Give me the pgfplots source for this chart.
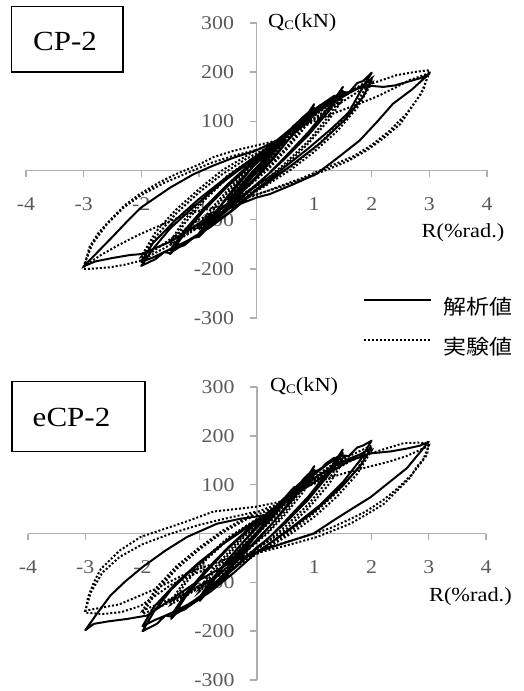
\documentclass[border=0pt]{standalone}
\usepackage{fontspec}
\setmainfont{Liberation Serif}
\newfontfamily\jp{Noto Sans CJK JP}
\usepackage{graphicx}
\usepackage{pgfplots}
\pgfplotsset{compat=1.18}
\definecolor{axgray}{RGB}{175,175,175}
\definecolor{tkgray}{RGB}{90,90,90}
\newcommand{\sx}[1]{\scalebox{1.12}[1]{#1}}
\pgfplotsset{
  hyst/.style={
    scale only axis,
    xmin=-4,xmax=4,ymin=-300,ymax=300, enlargelimits=false,
    axis lines=middle, axis line style={-, draw=axgray, line width=1.4pt},
    xtick={-4,-3,-2,-1,0,1,2,3,4}, ytick={-300,-200,-100,100,200,300},
    tick style={draw=axgray, line width=1.4pt},
    major tick length=7pt, tick align=outside,
    /pgf/number format/assume math mode=true,
    xticklabel={\sx{\pgfmathprintnumber{\tick}}},
    yticklabel={\sx{\pgfmathprintnumber{\tick}}},
    ticklabel style={font=\fontsize{19.5}{20}\selectfont, text=tkgray},
    xticklabel style={yshift=-17pt},
    yticklabel style={xshift=-12pt},
    clip=false,
  },
  anl/.style={black, line width=2pt, line join=round},
  exp/.style={black, line width=2pt, dash pattern=on 2pt off 2pt},
}
\begin{document}
\begin{tikzpicture}
\useasboundingbox (0,0) rectangle (523pt,691pt);
% ---------------- top: CP-2 ----------------
\begin{axis}[hyst, width=461pt, height=295pt, at={(26pt,373pt)}, anchor=south west,
  legend style={at={(rel axis cs:0.731,-0.03)}, anchor=west, draw=none, fill=none,
    font=\jp\fontsize{20.5}{22}\selectfont, row sep=21pt, inner sep=0pt,
    nodes={inner sep=0pt}, /tikz/every odd column/.style={column sep=11pt}},
  legend cell align=left,
  legend image code/.code={\draw[#1] (0pt,7pt) -- (67pt,7pt);},
]
\addplot[anl] coordinates {
(0,0)(0.12,20)(0.25,40)(0.15,22)(0,2)(-0.12,-18)(-0.25,-38)(-0.15,-22)(0,-3)
(0.25,38)(0.5,70)(0.35,48)(0.1,12)(0,-2)(-0.25,-36)(-0.5,-66)(-0.35,-45)(-0.1,-10)(0,5)
(0.25,38)(0.5,68)(0.35,45)(0.1,8)(-0.25,-35)(-0.5,-64)(-0.35,-42)(-0.1,-6)(0,6)
(0.3,45)(0.55,78)(0.65,92)(0.7,90)(0.8,108)(0.9,118)(0.95,122)(1.0,135)(0.8,100)(0.55,62)(0.3,25)(0,-15)
(-0.3,-50)(-0.55,-80)(-0.7,-100)(-0.75,-98)(-0.85,-115)(-1.0,-133)(-0.8,-100)(-0.55,-60)(-0.3,-22)(0,15)
(0.3,48)(0.6,82)(0.8,103)(1.0,128)(0.8,95)(0.5,55)(0.2,15)(0,-12)(-0.3,-48)(-0.6,-85)(-0.8,-106)(-1.0,-128)(-0.8,-96)(-0.5,-55)(-0.2,-12)(0,18)
(0.35,55)(0.7,95)(1.0,125)(1.1,128)(1.2,140)(1.35,152)(1.4,150)(1.5,170)(1.25,128)(0.9,78)(0.5,28)(0.2,-8)(0,-28)
(-0.35,-62)(-0.7,-100)(-1.0,-135)(-1.1,-137)(-1.25,-152)(-1.4,-158)(-1.5,-170)(-1.25,-128)(-0.9,-80)(-0.5,-32)(-0.2,0)(0,22)
(0.4,58)(0.8,100)(1.1,128)(1.3,145)(1.5,162)(1.25,120)(0.9,72)(0.5,25)(0,-30)(-0.4,-70)(-0.8,-110)(-1.1,-138)(-1.3,-152)(-1.5,-162)(-1.25,-122)(-0.9,-75)(-0.5,-28)(0,25)
(0.4,62)(0.8,108)(1.2,140)(1.5,160)(1.6,158)(1.75,178)(1.85,182)(2.0,199)(1.8,160)(1.6,118)(1.3,85)(0.9,45)(0.5,8)(0.2,-20)(0,-38)
(-0.4,-78)(-0.8,-115)(-1.2,-145)(-1.5,-168)(-1.6,-166)(-1.75,-180)(-2.0,-194)(-1.8,-160)(-1.5,-118)(-1.1,-75)(-0.6,-25)(-0.2,10)(0,25)
(0.4,60)(0.8,100)(1.2,130)(1.5,150)(1.8,170)(2.0,185)(1.85,150)(1.55,105)(1.1,55)(0.6,10)(0.2,-25)(0,-40)
(-0.4,-80)(-0.8,-115)(-1.2,-143)(-1.5,-160)(-1.8,-177)(-2.0,-186)(-1.8,-148)(-1.4,-100)(-1.0,-58)(-0.5,-12)(-0.1,22)(0,30)
(0.35,61)(0.7,95)(1.0,118)(1.5,155)(1.8,168)(2.0,172)(2.2,170)(2.4,173)(2.55,178)(2.7,183)(2.85,188)(3.0,197)
(2.7,165)(2.37,136)(2.1,100)(1.79,61)(1.4,25)(1.04,-7)(0.6,-30)(0.23,-48)(0,-55)
(-0.5,-78)(-1.0,-108)(-1.5,-145)(-2.0,-170)(-2.2,-172)(-2.5,-178)(-2.8,-185)(-3.0,-195)
(-2.75,-165)(-2.5,-135)(-2.2,-98)(-2.0,-75)(-1.5,-35)(-1.1,-8)(-0.75,10)(-0.4,26)(0,41)(0.35,61)(0.5,65)
};
\addlegendentry{\sx{解析値}}
\addplot[exp] coordinates {
(0,0)(0.25,35)(0.5,62)(0.3,35)(0,0)(-0.25,-33)(-0.5,-60)(-0.3,-32)(0,2)
(0.25,36)(0.5,60)(0.3,32)(0,-2)(-0.25,-34)(-0.5,-58)(-0.3,-30)(0,4)
(0.3,42)(0.6,80)(0.8,102)(1.0,122)(0.8,90)(0.5,45)(0.2,5)(0,-15)(-0.3,-45)(-0.6,-78)(-0.8,-98)(-1.0,-120)(-0.8,-88)(-0.5,-45)(-0.2,-5)(0,15)
(0.3,40)(0.6,75)(0.8,96)(1.0,115)(0.8,82)(0.5,40)(0.2,2)(0,-18)(-0.3,-48)(-0.6,-76)(-0.8,-95)(-1.0,-113)(-0.8,-80)(-0.5,-40)(-0.2,0)(0,18)
(0.4,50)(0.8,95)(1.2,130)(1.5,155)(1.25,110)(0.9,60)(0.5,15)(0.2,-15)(0,-30)(-0.4,-60)(-0.8,-95)(-1.2,-128)(-1.5,-152)(-1.25,-108)(-0.9,-60)(-0.5,-15)(-0.2,12)(0,28)
(0.4,52)(0.8,90)(1.2,122)(1.5,146)(1.25,102)(0.9,55)(0.5,10)(0,-32)(-0.4,-62)(-0.8,-92)(-1.2,-122)(-1.5,-145)(-1.25,-100)(-0.9,-55)(-0.5,-10)(0,30)
(0.4,58)(0.8,95)(1.2,128)(1.6,158)(2.0,188)(1.75,140)(1.4,90)(1.0,45)(0.6,8)(0.2,-22)(0,-38)(-0.4,-70)(-0.8,-100)(-1.2,-130)(-1.6,-158)(-2.0,-183)(-1.75,-135)(-1.4,-88)(-1.0,-45)(-0.6,-8)(-0.2,22)(0,35)
(0.4,58)(0.8,90)(1.2,118)(1.6,148)(2.0,178)(1.75,128)(1.4,80)(1.0,38)(0.6,2)(0.2,-28)(0,-42)(-0.4,-72)(-0.8,-98)(-1.2,-125)(-1.6,-150)(-2.0,-175)(-1.75,-125)(-1.4,-80)(-1.0,-38)(-0.6,0)(-0.2,28)(0,42)
(0.35,58)(0.7,90)(1.0,118)(1.5,155)(1.8,170)(2.08,180)(2.43,194)(2.78,201)(3.0,204)
(2.9,165)(2.7,130)(2.5,95)(2.2,65)(1.9,40)(1.6,20)(1.3,5)(0.75,-20)(0.3,-38)(0,-48)
(-0.5,-70)(-1.0,-100)(-1.5,-140)(-2.03,-184)(-2.3,-192)(-2.55,-197)(-2.9,-200)(-3.0,-200)
(-2.9,-156)(-2.75,-128)(-2.55,-102)(-2.3,-72)(-2.03,-48)(-1.7,-25)(-1.39,-7)(-1.0,12)(-0.75,27)(-0.4,40)(0,51)(0.35,61)
(0.7,82)(1.0,100)(1.33,116)(1.7,132)(2.08,150)(2.4,168)(2.66,184)(3.0,198)
(2.85,155)(2.6,115)(2.3,80)(2.0,52)(1.7,30)(1.3,10)(0.8,-15)(0.4,-32)(0,-50)
(-0.6,-72)(-1.2,-88)(-1.6,-108)(-2.03,-130)(-2.4,-152)(-2.7,-172)(-3.0,-195)
(-2.85,-150)(-2.6,-110)(-2.3,-75)(-2.0,-50)(-1.6,-25)(-1.2,-5)(-0.8,15)(-0.4,30)(0,42)
};
\addlegendentry{\sx{実験値}}
\node[draw, line width=1.8pt, minimum width=111.6pt, minimum height=65.6pt, inner sep=0pt] at (rel axis cs:0.0897,0.945) {};
\node[font=\fontsize{27.7}{30}\selectfont, inner sep=0pt] at (rel axis cs:0.0846,0.939) {\sx{CP-2}};
\node[anchor=west, font=\fontsize{20}{22}\selectfont, inner sep=0pt] at (rel axis cs:0.525,1.0) {\sx{Q{\fontsize{13}{13}\selectfont\raisebox{-2pt}{C}}(kN)}};
\node[font=\fontsize{20}{22}\selectfont, inner sep=0pt] at (rel axis cs:0.948,0.29) {\sx{R(\%rad.)}};
\end{axis}
% ---------------- bottom: eCP-2 ----------------
\begin{axis}[hyst, width=458pt, height=293pt, at={(28pt,11pt)}, anchor=south west]
\addplot[anl] coordinates {
(0,0)(0.25,42)(0.5,72)(0.3,40)(0,0)(-0.25,-40)(-0.5,-68)(-0.3,-38)(0,-2)
(0.25,40)(0.5,70)(0.3,38)(0,-2)(-0.25,-38)(-0.5,-66)(-0.3,-36)(0,2)
(0.3,48)(0.55,82)(0.65,95)(0.7,93)(0.8,110)(0.9,122)(0.95,125)(1.0,138)(0.8,102)(0.55,62)(0.3,25)(0,-12)
(-0.3,-50)(-0.55,-82)(-0.7,-102)(-0.75,-100)(-0.85,-118)(-1.0,-138)(-0.8,-102)(-0.55,-62)(-0.3,-25)(0,12)
(0.3,50)(0.6,85)(0.8,106)(1.0,130)(0.8,95)(0.5,52)(0.2,12)(0,-14)(-0.3,-50)(-0.6,-86)(-0.8,-108)(-1.0,-130)(-0.8,-96)(-0.5,-52)(-0.2,-12)(0,16)
(0.35,58)(0.7,98)(1.0,128)(1.1,130)(1.2,143)(1.35,155)(1.4,153)(1.5,172)(1.25,128)(0.9,76)(0.5,26)(0.2,-10)(0,-28)
(-0.35,-65)(-0.7,-105)(-1.0,-135)(-1.1,-137)(-1.25,-155)(-1.4,-162)(-1.5,-175)(-1.25,-130)(-0.9,-80)(-0.5,-30)(-0.2,2)(0,22)
(0.4,60)(0.8,102)(1.1,130)(1.3,148)(1.5,165)(1.25,120)(0.9,70)(0.5,22)(0,-30)(-0.4,-72)(-0.8,-110)(-1.1,-138)(-1.3,-155)(-1.5,-168)(-1.25,-124)(-0.9,-76)(-0.5,-28)(0,25)
(0.4,62)(0.8,108)(1.2,140)(1.5,160)(1.6,158)(1.75,176)(1.85,180)(2.0,190)(1.8,150)(1.5,105)(1.1,58)(0.6,12)(0.2,-22)(0,-38)
(-0.4,-80)(-0.8,-118)(-1.2,-150)(-1.5,-170)(-1.6,-168)(-1.75,-185)(-2.0,-200)(-1.8,-160)(-1.5,-115)(-1.1,-70)(-0.6,-22)(-0.2,10)(0,25)
(0.4,58)(0.8,98)(1.2,128)(1.5,148)(1.8,162)(2.0,175)(1.8,138)(1.5,98)(1.0,45)(0.5,2)(0,-38)
(-0.4,-80)(-0.8,-115)(-1.2,-145)(-1.5,-163)(-1.8,-178)(-2.0,-190)(-1.8,-150)(-1.4,-100)(-1.0,-58)(-0.5,-12)(0,28)
(0.4,55)(0.8,90)(1.2,120)(1.6,148)(1.98,164)(2.33,168)(2.62,174)(2.85,180)(3.0,188)
(2.62,134)(2.3,104)(1.98,74)(1.65,50)(1.34,27)(0.99,0)(0.46,-20)(0,-38)
(-0.5,-62)(-1.0,-95)(-1.5,-135)(-1.92,-168)(-2.27,-175)(-2.6,-180)(-2.85,-185)(-3.0,-198)
(-2.8,-165)(-2.56,-127)(-2.3,-98)(-1.98,-67)(-1.6,-35)(-1.22,-7)(-0.7,20)(-0.3,30)(-0.06,34)(0.3,40)
};
\addplot[exp] coordinates {
(0,0)(0.25,38)(0.5,65)(0.3,35)(0,0)(-0.25,-35)(-0.5,-62)(-0.3,-33)(0,2)
(0.25,36)(0.5,62)(0.3,32)(0,-2)(-0.25,-33)(-0.5,-60)(-0.3,-30)(0,4)
(0.3,45)(0.6,84)(0.8,106)(1.0,125)(0.8,92)(0.5,46)(0.2,5)(0,-15)(-0.3,-46)(-0.6,-78)(-0.8,-98)(-1.0,-118)(-0.8,-86)(-0.5,-44)(-0.2,-4)(0,15)
(0.3,42)(0.6,78)(0.8,98)(1.0,118)(0.8,84)(0.5,40)(0.2,2)(0,-18)(-0.3,-48)(-0.6,-76)(-0.8,-94)(-1.0,-112)(-0.8,-78)(-0.5,-38)(-0.2,0)(0,18)
(0.4,52)(0.8,98)(1.2,132)(1.5,155)(1.25,110)(0.9,60)(0.5,15)(0.2,-15)(0,-30)(-0.4,-60)(-0.8,-95)(-1.2,-125)(-1.5,-145)(-1.25,-102)(-0.9,-55)(-0.5,-12)(-0.2,14)(0,28)
(0.4,52)(0.8,92)(1.2,124)(1.5,146)(1.25,100)(0.9,52)(0.5,8)(0,-32)(-0.4,-62)(-0.8,-92)(-1.2,-120)(-1.5,-138)(-1.25,-95)(-0.9,-50)(-0.5,-8)(0,30)
(0.4,58)(0.8,96)(1.2,130)(1.6,158)(2.0,180)(1.75,132)(1.4,85)(1.0,42)(0.6,6)(0.2,-24)(0,-38)(-0.4,-68)(-0.8,-96)(-1.2,-122)(-1.6,-145)(-2.0,-165)(-1.75,-118)(-1.4,-72)(-1.0,-32)(-0.6,2)(-0.2,28)(0,38)
(0.4,58)(0.8,90)(1.2,120)(1.6,146)(2.0,170)(1.75,122)(1.4,76)(1.0,34)(0.6,0)(0.2,-28)(0,-42)(-0.4,-70)(-0.8,-95)(-1.2,-118)(-1.6,-138)(-2.0,-158)(-1.75,-110)(-1.4,-66)(-1.0,-28)(-0.6,6)(-0.2,32)(0,44)
(0.4,62)(0.8,95)(1.2,125)(1.6,150)(2.09,168)(2.56,185)(2.8,186)(3.0,185)
(2.97,161)(2.8,138)(2.67,114)(2.45,88)(2.21,60)(1.9,38)(1.63,20)(1.05,-7)(0.5,-25)(0,-40)
(-0.5,-58)(-1.0,-78)(-1.5,-105)(-2.03,-148)(-2.37,-161)(-2.7,-165)(-3.0,-162)
(-2.95,-130)(-2.85,-100)(-2.73,-73)(-2.4,-35)(-2.03,-7)(-1.6,10)(-1.22,25)(-0.76,45)(0,55)(0.4,65)
(0.8,92)(1.2,112)(1.63,127)(2.0,138)(2.33,148)(2.6,158)(2.9,174)(3.0,180)
(2.9,150)(2.7,120)(2.45,92)(2.2,68)(1.9,45)(1.6,28)(1.3,12)(1.0,0)(0.5,-18)(0,-35)
(-0.6,-55)(-1.2,-80)(-1.8,-115)(-2.4,-145)(-3.0,-158)
(-2.9,-120)(-2.7,-80)(-2.4,-48)(-2.0,-22)(-1.5,0)(-1.0,18)(-0.5,32)(0,45)
};
\node[draw, line width=1.8pt, minimum width=133.3pt, minimum height=70pt, inner sep=0pt] at (rel axis cs:0.110,0.899) {};
\node[font=\fontsize{27.7}{30}\selectfont, inner sep=0pt] at (rel axis cs:0.095,0.895) {\sx{eCP-2}};
\node[anchor=west, font=\fontsize{20}{22}\selectfont, inner sep=0pt] at (rel axis cs:0.528,1.0) {\sx{Q{\fontsize{13}{13}\selectfont\raisebox{-2pt}{C}}(kN)}};
\node[font=\fontsize{20}{22}\selectfont, inner sep=0pt] at (rel axis cs:0.966,0.283) {\sx{R(\%rad.)}};
\end{axis}
\end{tikzpicture}
\end{document}
